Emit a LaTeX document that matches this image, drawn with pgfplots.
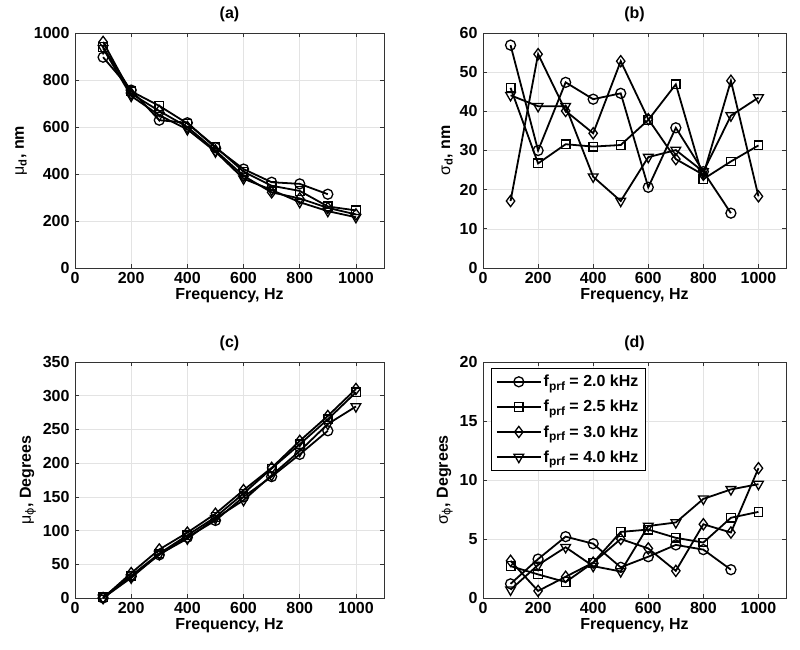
\documentclass[border=0pt]{standalone}
\usepackage{fontspec}
\setmainfont{Liberation Sans}
\newfontfamily\dejavu{DejaVu Sans}
\usepackage{pgfplots}
\pgfplotsset{compat=1.18}
\newcommand{\fs}{\fontsize{16}{19}\selectfont\bfseries}
\newcommand{\gk}[1]{{\mdseries #1}}
\newcommand{\lsub}[1]{\raisebox{-0.45ex}{\fontsize{12}{14}\selectfont #1}}
\pgfplotsset{
  myax/.style={
    scale only axis, height=235pt,
    xmin=0, xmax=1100, xtick={0,200,...,1000},
    axis line style={draw=black!80, line width=0.7pt},
    grid=major, grid style={gray!22, line width=0.5pt},
    tick style={black!80, line width=0.7pt}, major tick length=4pt,
    tick label style={font=\fs},
    xticklabel style={yshift=-1pt},
    yticklabel style={xshift=-2pt},
    /pgf/number format/assume math mode=true,
    /pgf/number format/1000 sep={},
    label style={font=\fs},
    title style={font=\fs, yshift=2pt},
    xlabel={Frequency, Hz},
    xlabel style={yshift=2pt},
    every axis plot/.append style={black, line width=1.8pt},
    legend image code/.code={\draw[mark repeat=2,mark phase=2,#1] plot coordinates {(0pt,0pt) (22pt,0pt) (44pt,0pt)};},
  },
  s1/.style={mark=o, mark size=5pt, mark options={line width=1.3pt, fill=none, solid}},
  s2/.style={mark=square, mark size=4.3pt, mark options={line width=1.3pt, fill=none, solid}},
  s3/.style={mark=diamond, mark size=5.6pt, mark options={line width=1.3pt, fill=none, solid}},
  s4/.style={mark=triangle, mark size=5.6pt, mark options={line width=1.3pt, fill=none, solid, rotate=180}},
}
\begin{document}
\begin{tikzpicture}
\path[use as bounding box] (0pt,0pt) rectangle (800pt,649pt);
% (a)
\begin{axis}[myax, at={(75pt,381pt)}, anchor=south west, width=309pt,
  ymin=0, ymax=1000, ytick={0,200,...,1000}, title={(a)},
  ylabel={\gk{μ}\textsubscript{d}, nm}]
\addplot[s1] coordinates {(100,897)(200,757)(300,629)(400,618)(500,512)(600,421)(700,365)(800,358)(900,314)};
\addplot[s2] coordinates {(100,940)(200,752)(300,690)(400,615)(500,516)(600,410)(700,350)(800,328)(900,262)(1000,245)};
\addplot[s3] coordinates {(100,962)(200,742)(300,668)(400,600)(500,500)(600,392)(700,322)(800,296)(900,256)(1000,228)};
\addplot[s4] coordinates {(100,935)(200,732)(300,650)(400,590)(500,495)(600,380)(700,332)(800,280)(900,242)(1000,216)};
\end{axis}
% (b)
\begin{axis}[myax, at={(483pt,381pt)}, anchor=south west, width=303pt,
  ymin=0, ymax=60, ytick={0,10,...,60}, title={(b)},
  ylabel={\gk{σ}\textsubscript{d}, nm}]
\addplot[s1] coordinates {(100,56.9)(200,30.0)(300,47.4)(400,43.1)(500,44.6)(600,20.6)(700,35.8)(800,24.6)(900,14.0)};
\addplot[s2] coordinates {(100,46.0)(200,26.7)(300,31.6)(400,31.0)(500,31.4)(600,37.8)(700,46.9)(800,22.7)(900,27.2)(1000,31.3)};
\addplot[s3] coordinates {(100,17.1)(200,54.6)(300,40.1)(400,34.4)(500,52.8)(600,38.0)(700,27.8)(800,23.8)(900,47.8)(1000,18.3)};
\addplot[s4] coordinates {(100,44.1)(200,41.3)(300,41.3)(400,23.3)(500,17.1)(600,28.3)(700,30.1)(800,24.6)(900,38.9)(1000,43.5)};
\end{axis}
% (c)
\begin{axis}[myax, at={(75pt,51pt)}, anchor=south west, width=309pt, height=236pt,
  ymin=0, ymax=350, ytick={0,50,...,350}, title={(c)},
  ylabel={\gk{μ}\textsubscript{\dejavu\mdseries ϕ}, Degrees}]
\addplot[s1] coordinates {(100,0)(200,32)(300,64)(400,90)(500,115)(600,150)(700,180)(800,213)(900,248)};
\addplot[s2] coordinates {(100,1)(200,33)(300,66)(400,93)(500,120)(600,155)(700,192)(800,228)(900,265)(1000,305)};
\addplot[s3] coordinates {(100,0)(200,37)(300,72)(400,97)(500,125)(600,160)(700,193)(800,233)(900,270)(1000,310)};
\addplot[s4] coordinates {(100,0)(200,30)(300,65)(400,88)(500,118)(600,145)(700,182)(800,218)(900,258)(1000,284)};
\end{axis}
% (d)
\begin{axis}[myax, at={(483pt,51pt)}, anchor=south west, width=303pt, height=236pt,
  ymin=0, ymax=20, ytick={0,5,...,20}, title={(d)},
  ylabel={\gk{σ}\textsubscript{\dejavu\mdseries ϕ}, Degrees},
  legend style={font=\fs, draw=black, line width=0.7pt, at={(0.025,0.975)}, anchor=north west,
    row sep=8pt, inner sep=5pt, cells={anchor=west}}]
\addplot[s1] coordinates {(100,1.2)(200,3.3)(300,5.2)(400,4.6)(500,2.6)(600,3.5)(700,4.5)(800,4.1)(900,2.4)};
\addlegendentry{f\lsub{prf} = 2.0 kHz}
\addplot[s2] coordinates {(100,2.7)(200,2.0)(300,1.35)(400,3.0)(500,5.6)(600,5.8)(700,5.1)(800,4.7)(900,6.8)(1000,7.3)};
\addlegendentry{f\lsub{prf} = 2.5 kHz}
\addplot[s3] coordinates {(100,3.15)(200,0.6)(300,1.8)(400,3.0)(500,5.0)(600,4.2)(700,2.3)(800,6.25)(900,5.55)(1000,11.0)};
\addlegendentry{f\lsub{prf} = 3.0 kHz}
\addplot[s4] coordinates {(100,0.7)(200,2.8)(300,4.3)(400,2.7)(500,2.25)(600,6.1)(700,6.4)(800,8.4)(900,9.2)(1000,9.65)};
\addlegendentry{f\lsub{prf} = 4.0 kHz}
\end{axis}
\end{tikzpicture}
\end{document}
